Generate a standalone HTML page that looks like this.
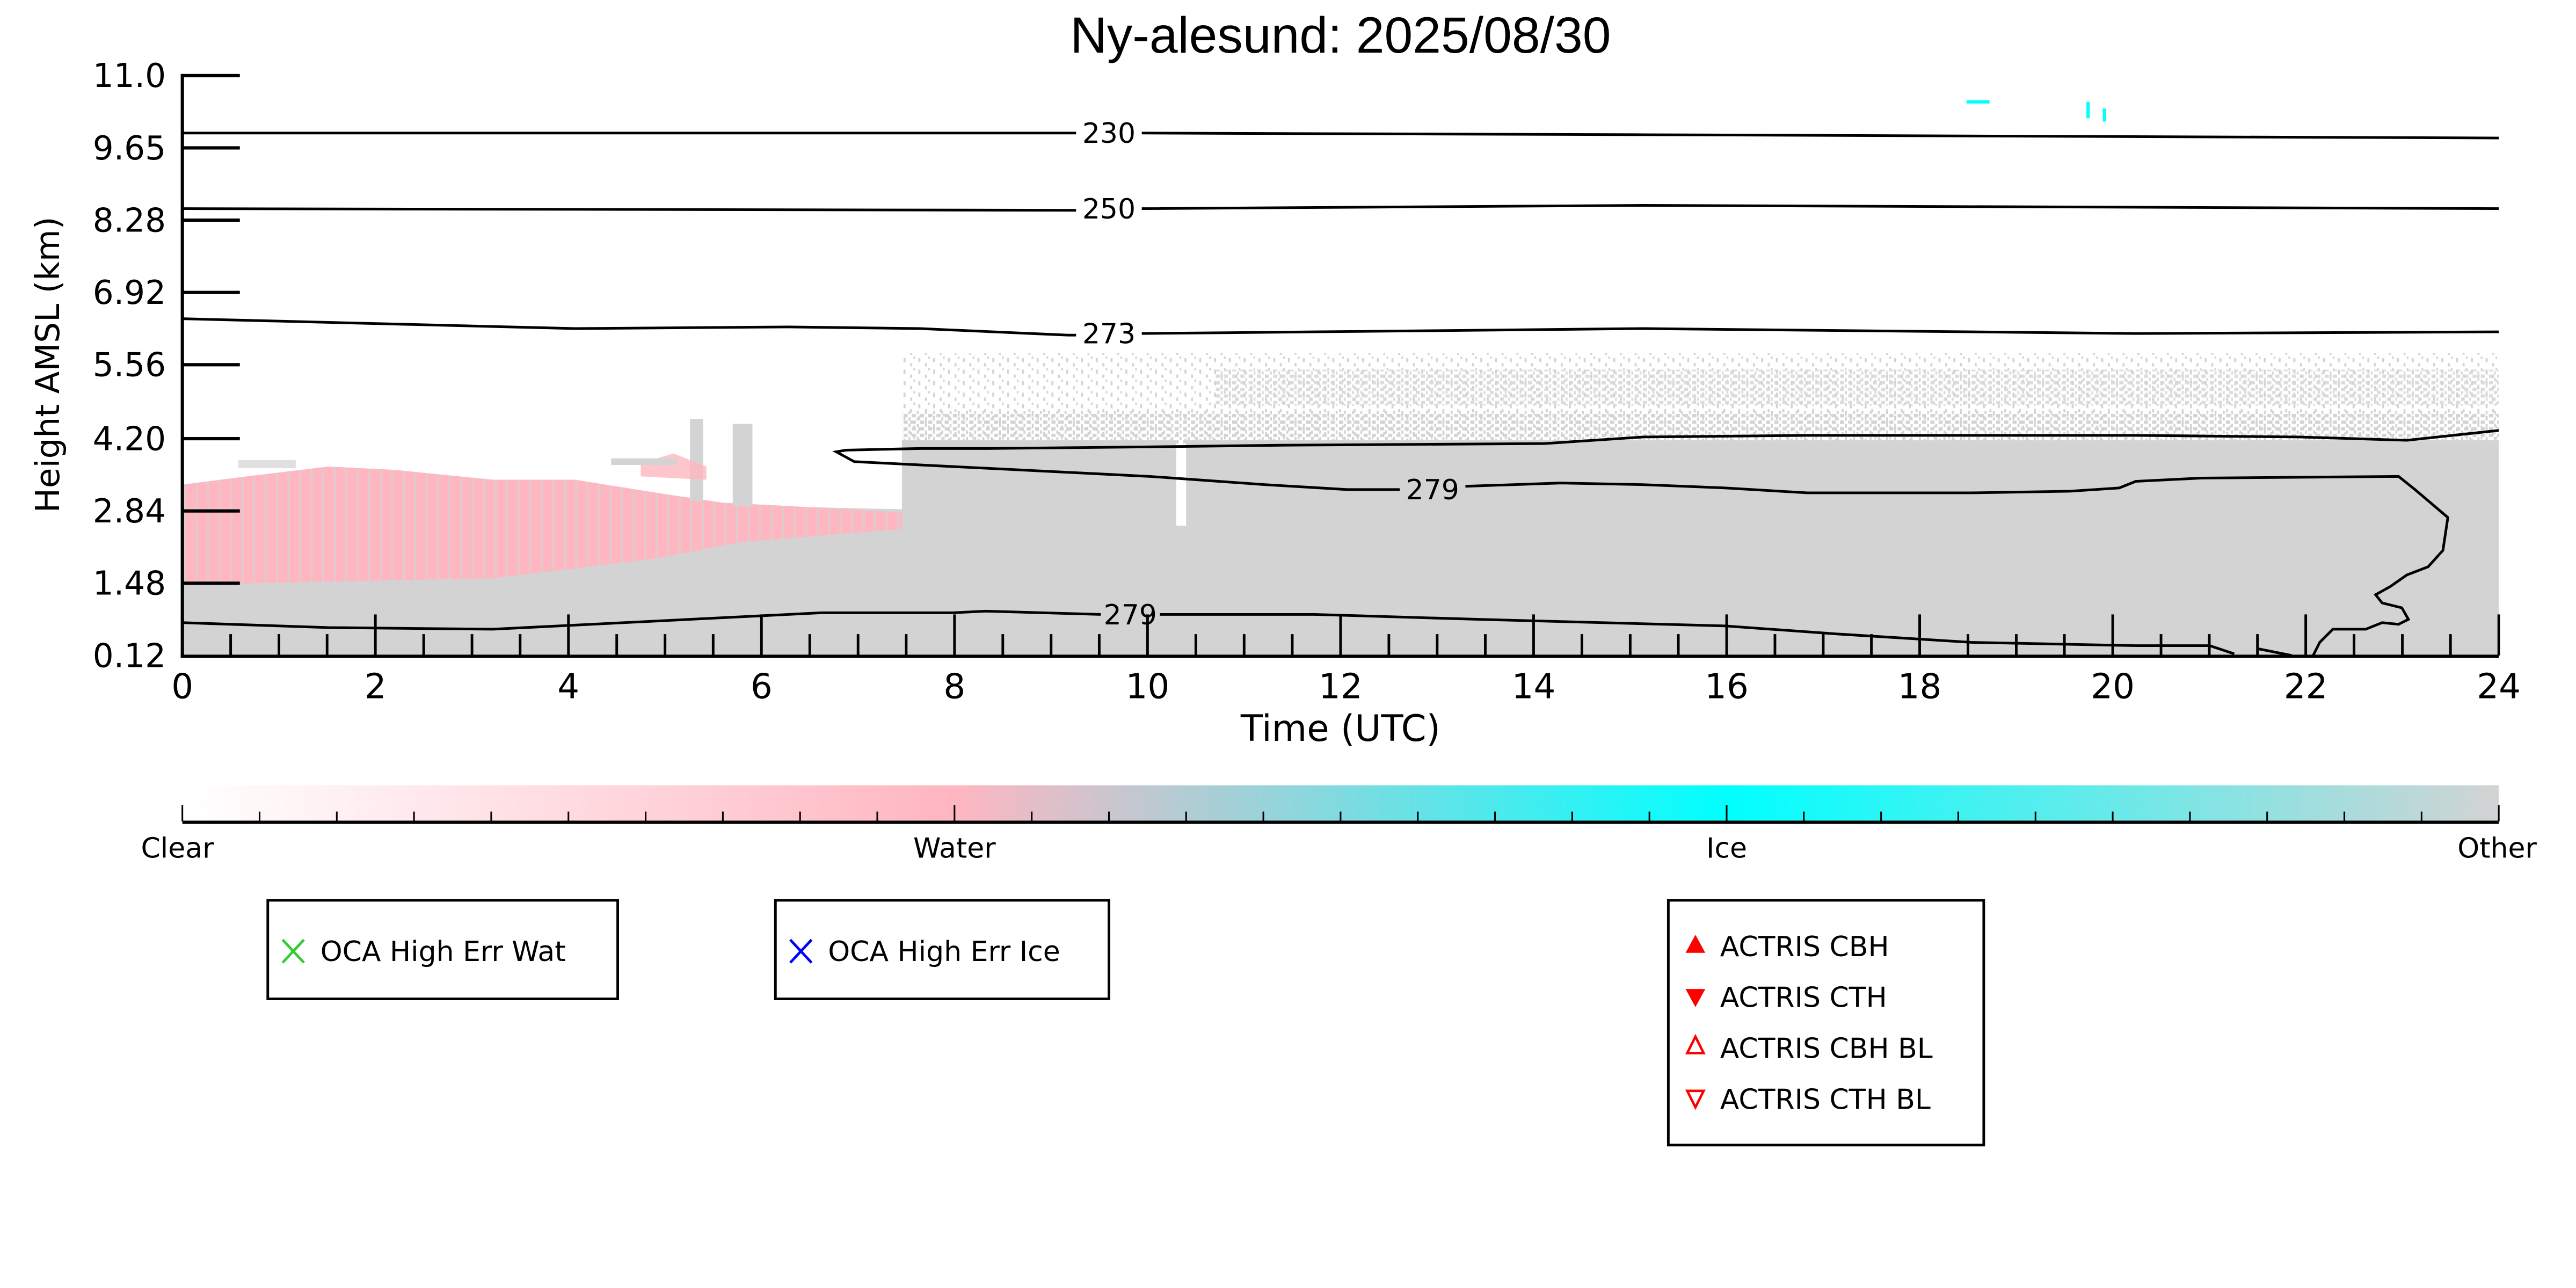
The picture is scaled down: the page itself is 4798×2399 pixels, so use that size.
<!DOCTYPE html>
<html><head><meta charset="utf-8"><style>html,body{margin:0;padding:0;background:#fff}svg{display:block}</style></head>
<body>
<svg xmlns="http://www.w3.org/2000/svg" width="4798" height="2399" viewBox="0 0 1568 784">
<defs>
<pattern id="stripes" width="7" height="10" patternUnits="userSpaceOnUse"><rect x="0" y="0" width="1.4" height="10" fill="#d3d3d3"/></pattern>
<pattern id="speck" width="9" height="7" patternUnits="userSpaceOnUse"><rect x="1" y="1" width="1.2" height="2.5" fill="#d3d3d3"/><rect x="5" y="4" width="1.2" height="2" fill="#d3d3d3"/><rect x="7" y="0" width="1" height="1.5" fill="#d3d3d3"/></pattern>
<pattern id="speck2" width="5" height="4" patternUnits="userSpaceOnUse"><rect x="0" y="0" width="2.5" height="2" fill="#d3d3d3"/><rect x="3" y="2" width="1.2" height="2" fill="#d3d3d3"/></pattern>
<linearGradient id="cb" x1="0" x2="1" y1="0" y2="0"><stop offset="0" stop-color="#fff"/><stop offset="0.333" stop-color="#ffb6c1"/><stop offset="0.667" stop-color="#00ffff"/><stop offset="1" stop-color="#d3d3d3"/></linearGradient>
</defs>
<text x="816" y="32" font-family="Liberation Sans, sans-serif" font-size="31" text-anchor="middle">Ny-alesund: 2025/08/30</text>
<!-- data -->
<rect x="549" y="215" width="972" height="55" fill="url(#speck)"/>
<rect x="740" y="225" width="781" height="22" fill="url(#speck2)" opacity="0.8"/>
<rect x="549" y="250" width="972" height="20" fill="url(#speck2)"/>
<polygon points="111,300 549,310 549,268 716,268 716,320 722,320 722,268 1521,268 1521,399 111,399" fill="#d3d3d3"/>
<polygon points="111,295 150,290 200,284 240,286 300,292 350,292 400,300 420,303 440,306 480,308 549,312 549,322 450,330 400,340 300,352 200,354 111,356" fill="#ffb6c1"/>
<polygon points="111,295 150,290 200,284 240,286 300,292 350,292 400,300 420,303 440,306 480,308 549,312 549,322 450,330 400,340 300,352 200,354 111,356" fill="url(#stripes)" opacity="0.7"/>
<rect x="420" y="255" width="8" height="50" fill="#d3d3d3"/><rect x="446" y="258" width="12" height="50" fill="#d3d3d3"/>
<polygon points="390,282 410,276 430,284 430,292 390,290" fill="#ffb6c1" opacity="0.8"/>
<rect x="372" y="279" width="40" height="4" fill="#d3d3d3"/><rect x="145" y="280" width="35" height="5" fill="#d3d3d3" opacity="0.7"/>
<rect x="1197" y="61" width="14" height="2" fill="#00ffff"/><rect x="1270" y="62" width="2" height="10" fill="#00ffff"/><rect x="1280" y="66" width="2" height="8" fill="#00ffff"/>
<!-- contours -->
<g fill="none" stroke="#000" stroke-width="1.6">
<polyline points="111,81 655,81"/><polyline points="695,81 1000,82 1521,84"/>
<polyline points="111,127 655,128"/><polyline points="695,127 1000,125 1521,127"/>
<polyline points="111,194 350,200 480,199 560,200 650,204 655,204"/><polyline points="695,203 800,202 1000,200 1200,202 1300,203 1521,202"/>
<polyline points="1521,262 1465,268 1400,266 1300,265 1100,265 1000,266 940,270 780,271 700,272 600,273 560,273 515,274 509,275 520,281 600,285 700,290 770,295 820,298 852,298"/>
<polyline points="892,296 950,294 1000,295 1050,297 1100,300 1200,300 1260,299 1290,297 1300,293 1340,291 1460,290 1470,298 1490,315 1487,335 1478,345 1465,350 1455,357 1446,362 1450,367 1462,370 1466,377 1460,380 1450,379 1440,383 1420,383 1412,391 1408,399"/>
<polyline points="111,379 200,382 300,383 400,378 500,373 580,373 600,372 670,374"/><polyline points="706,374 800,374 900,377 1050,381 1120,386 1200,391 1300,393 1345,393 1360,398"/>
<polyline points="1375,395 1395,399"/>
</g>
<g font-family="DejaVu Sans, Liberation Sans, sans-serif" font-size="17" text-anchor="middle">
<text x="675" y="87">230</text><text x="675" y="133">250</text><text x="675" y="209">273</text><text x="872" y="304">279</text><text x="688" y="380">279</text>
</g>
<!-- axes -->
<g stroke="#000" stroke-width="2" fill="none">
<line x1="111" y1="45" x2="111" y2="400"/><line x1="110" y1="399.5" x2="1521" y2="399.5"/>
<line x1="111" y1="46" x2="146" y2="46"/><line x1="111" y1="90" x2="146" y2="90"/><line x1="111" y1="134" x2="146" y2="134"/><line x1="111" y1="178" x2="146" y2="178"/><line x1="111" y1="222" x2="146" y2="222"/><line x1="111" y1="267" x2="146" y2="267"/><line x1="111" y1="311" x2="146" y2="311"/><line x1="111" y1="355" x2="146" y2="355"/>
</g>
<g stroke="#000" stroke-width="1.6">
<path d="M111,399V374M228.5,399V374M346,399V374M463.5,399V374M581,399V374M698.5,399V374M816,399V374M933.5,399V374M1051,399V374M1168.5,399V374M1286,399V374M1403.5,399V374M1521,399V374"/>
<path d="M140.4,399V386M169.8,399V386M199.1,399V386M257.9,399V386M287.3,399V386M316.6,399V386M375.4,399V386M404.8,399V386M434.1,399V386M492.9,399V386M522.3,399V386M551.6,399V386M610.4,399V386M639.8,399V386M669.1,399V386M727.9,399V386M757.3,399V386M786.6,399V386M845.4,399V386M874.8,399V386M904.1,399V386M962.9,399V386M992.3,399V386M1021.6,399V386M1080.4,399V386M1109.8,399V386M1139.1,399V386M1197.9,399V386M1227.3,399V386M1256.6,399V386M1315.4,399V386M1344.8,399V386M1374.1,399V386M1432.9,399V386M1462.3,399V386M1491.6,399V386"/>
</g>
<g font-family="DejaVu Sans, Liberation Sans, sans-serif" font-size="20" text-anchor="end">
<text x="101" y="53">11.0</text><text x="101" y="97">9.65</text><text x="101" y="141">8.28</text><text x="101" y="185">6.92</text><text x="101" y="229">5.56</text><text x="101" y="274">4.20</text><text x="101" y="318">2.84</text><text x="101" y="362">1.48</text><text x="101" y="406">0.12</text>
</g>
<g font-family="DejaVu Sans, Liberation Sans, sans-serif" font-size="21" text-anchor="middle">
<text x="111" y="425">0</text><text x="228.5" y="425">2</text><text x="346" y="425">4</text><text x="463.5" y="425">6</text><text x="581" y="425">8</text><text x="698.5" y="425">10</text><text x="816" y="425">12</text><text x="933.5" y="425">14</text><text x="1051" y="425">16</text><text x="1168.5" y="425">18</text><text x="1286" y="425">20</text><text x="1403.5" y="425">22</text><text x="1521" y="425">24</text>
<text x="816" y="451" font-size="22">Time (UTC)</text>
<text transform="translate(36,222) rotate(-90)" font-size="20">Height AMSL (km)</text>
</g>
<!-- colorbar -->
<rect x="111" y="478" width="1410" height="22" fill="url(#cb)"/>
<line x1="111" y1="500.5" x2="1521" y2="500.5" stroke="#000" stroke-width="2"/>
<g stroke="#000" stroke-width="1">
<path d="M111,500V490M581,500V490M1051,500V490M1521,500V490"/>
<path d="M158,500V494M205,500V494M252,500V494M299,500V494M346,500V494M393,500V494M440,500V494M487,500V494M534,500V494M628,500V494M675,500V494M722,500V494M769,500V494M816,500V494M863,500V494M910,500V494M957,500V494M1004,500V494M1098,500V494M1145,500V494M1192,500V494M1239,500V494M1286,500V494M1333,500V494M1380,500V494M1427,500V494M1474,500V494"/>
</g>
<g font-family="DejaVu Sans, Liberation Sans, sans-serif" font-size="17" text-anchor="middle">
<text x="108" y="522">Clear</text><text x="581" y="522">Water</text><text x="1051" y="522">Ice</text><text x="1520" y="522">Other</text>
</g>
<!-- legends -->
<g fill="none" stroke="#000" stroke-width="1.6">
<rect x="163" y="548" width="213" height="60"/><rect x="472" y="548" width="203" height="60"/><rect x="1015.5" y="548" width="192" height="149"/>
</g>
<g stroke-width="1.6">
<path d="M172,572L185,586M185,572L172,586" stroke="#32cd32"/>
<path d="M481,572L494,586M494,572L481,586" stroke="#0000ff"/>
</g>
<polygon points="1032,569 1038,580 1026,580" fill="#ff0000"/>
<polygon points="1026,602 1038,602 1032,613" fill="#ff0000"/>
<polygon points="1032,631 1037,641 1027,641" fill="none" stroke="#ff0000" stroke-width="1.5"/>
<polygon points="1027,664 1037,664 1032,674" fill="none" stroke="#ff0000" stroke-width="1.5"/>
<g font-family="DejaVu Sans, Liberation Sans, sans-serif" font-size="17">
<text x="195" y="585">OCA High Err Wat</text><text x="504" y="585">OCA High Err Ice</text>
<text x="1047" y="582">ACTRIS CBH</text><text x="1047" y="613">ACTRIS CTH</text><text x="1047" y="644">ACTRIS CBH BL</text><text x="1047" y="675">ACTRIS CTH BL</text>
</g>
</svg>
</body></html>
